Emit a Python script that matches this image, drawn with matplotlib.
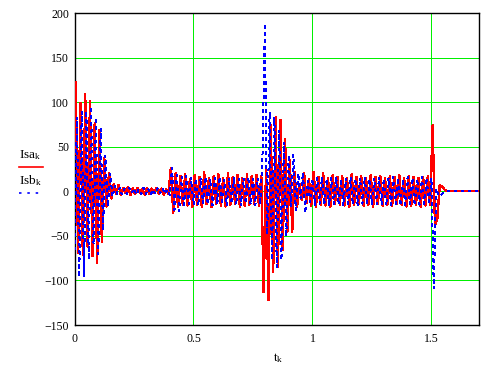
#!/usr/bin/env python3
"""Stator phase currents Isa / Isb versus time, Mathcad-style plot."""

import matplotlib

matplotlib.use("Agg")

import matplotlib.pyplot as plt
import numpy as np
from matplotlib.lines import Line2D

SAMPLE_STEP = 0.01

# Isa_k (half-cycle peaks), samples start at 0.005 s
ISA_START = 0.005
ISA = [
    122, -69, 99, -71, 109, -62, 101, -73, 77, -80,
    69, -57, 37, -17, 20, -8, 8, -3, 7, -4,
    4, -2, 5, -4, 3, -3, 4, -2, 3, -4,
    4, -3, 3, -2, 4, -3, 3, -4, 2, -3,
    26, -24, 20, -18, 17, -15, 19, -16, 14, -17,
    18, -15, 16, -17, 21, -14, 15, -18, 17, -14,
    19, -16, 15, -17, 20, -15, 16, -14, 18, -17,
    15, -16, 19, -15, 17, -14, 18, -16, 17, -113,
    27, -122, 74, -90, 83, -85, 80, -66, 58, -45,
    35, -45, 22, -18, 8, -10, 20, -13, 14, -16,
    22, -17, 16, -15, 20, -16, 15, -17, 18, -14,
    16, -15, 17, -16, 15, -17, 19, -15, 16, -14,
    17, -16, 15, -15, 18, -17, 16, -14, 17, -16,
    15, -15, 17, -16, 16, -14, 18, -15, 15, -17,
    17, -16, 16, -15, 15, -17, 16, -16, 17, -15,
    74, -38, -30, 7, 5, 2, 0, 0, 0, 0,
    0, 0, 0, 0, 0, 0, 0, 0, 0, 0,
]

# Isb_k, samples start at 0 s
ISB_START = 0.0
ISB = [
    -66, 83, -96, 89, -96, 90, -77, 95, -60, 83,
    -70, 70, -44, 40, -17, 20, -6, 6, -3, 4,
    -4, 3, -3, 4, -2, 3, -4, 2, -3, 4,
    -3, 3, -4, 2, -3, 4, -2, 3, -3, 2,
    -4, 26, -21, 18, -22, 16, -15, 17, -14, 16,
    -15, 14, -16, 15, -13, 16, -15, 14, -16, 15,
    -14, 16, -15, 13, -16, 15, -14, 16, -15, 14,
    -16, 15, -14, 16, -15, 14, -16, 15, -15, 40,
    188, -49, 89, -77, 83, -85, 69, -77, 55, -51,
    41, -17, 41, -21, 20, -8, 21, -24, 12, -12,
    14, -16, 15, -14, 16, -15, 14, -16, 15, -14,
    16, -15, 14, -16, 15, -14, 16, -15, 14, -16,
    15, -14, 16, -15, 14, -16, 15, -14, 16, -15,
    14, -16, 15, -15, 16, -14, 15, -16, 14, -15,
    16, -14, 15, -16, 14, -15, 16, -14, 15, -15,
    15, -109, 3, -5, -4, -2, 0, 0, 0, 0,
    0, 0, 0, 0, 0, 0, 0, 0, 0, 0, 0,
]

X_TICKS = [0, 0.5, 1, 1.5]
X_TICK_LABELS = ["0", "0.5", "1", "1.5"]
Y_TICKS = [-150, -100, -50, 0, 50, 100, 150, 200]

GRID_GREEN = "#00f000"
SERIF = "Liberation Serif"
PX = 0.72  # one pixel at 100 dpi, in points
LINE_W = 1.0
DOTTED = (0, (1.5, 3.5))


def main() -> None:
    plt.rcParams["font.family"] = [SERIF, "DejaVu Serif"]
    plt.rcParams["mathtext.fontset"] = "custom"
    plt.rcParams["mathtext.rm"] = SERIF
    plt.rcParams["mathtext.it"] = SERIF + ":italic"

    t_isa = ISA_START + SAMPLE_STEP * np.arange(len(ISA))
    t_isb = ISB_START + SAMPLE_STEP * np.arange(len(ISB))

    fig = plt.figure(figsize=(4.9, 3.68), dpi=100)
    ax = fig.add_axes([74.5 / 490, 1 - 325 / 368, (479 - 74.5) / 490, (325 - 13) / 368])

    ax.plot(t_isa, ISA, color="#ff0000", linewidth=LINE_W, antialiased=False, zorder=3)
    ax.plot(t_isb, ISB, color="#0000ff", linewidth=LINE_W, linestyle=DOTTED,
            antialiased=False, zorder=4)

    ax.set_xlim(0, 1.7)
    ax.set_ylim(-150, 200)
    ax.set_xticks(X_TICKS)
    ax.set_xticklabels(X_TICK_LABELS)
    ax.set_yticks(Y_TICKS)
    ax.tick_params(length=0, labelsize=8.5, pad=4)
    ax.tick_params(axis="x", pad=6)
    ax.grid(True, color=GRID_GREEN, linewidth=PX, antialiased=False, zorder=0)
    ax.set_axisbelow(True)
    for spine in ax.spines.values():
        spine.set_color("black")
        spine.set_linewidth(1.0)

    # legend on the left, Mathcad style: name above a line sample
    fig.text(19 / 490, 1 - 158 / 368, r"Isa$_\mathrm{k}$", fontsize=9.5, ha="left", va="baseline")
    fig.add_artist(Line2D([19 / 490, 43 / 490], [1 - 166.5 / 368] * 2, color="#ff0000",
                          linewidth=1.2, transform=fig.transFigure))
    fig.text(19 / 490, 1 - 184 / 368, r"Isb$_\mathrm{k}$", fontsize=9.5, ha="left", va="baseline")
    fig.add_artist(Line2D([19 / 490, 41 / 490], [1 - 192.5 / 368] * 2, color="#0000ff",
                          linewidth=1.2, linestyle=DOTTED, transform=fig.transFigure))

    fig.text(278 / 490, 1 - 358 / 368, r"t$_\mathrm{k}$", fontsize=9.5, ha="center", va="center")

    fig.savefig("out.png", dpi=100)
    plt.close(fig)


if __name__ == "__main__":
    main()
